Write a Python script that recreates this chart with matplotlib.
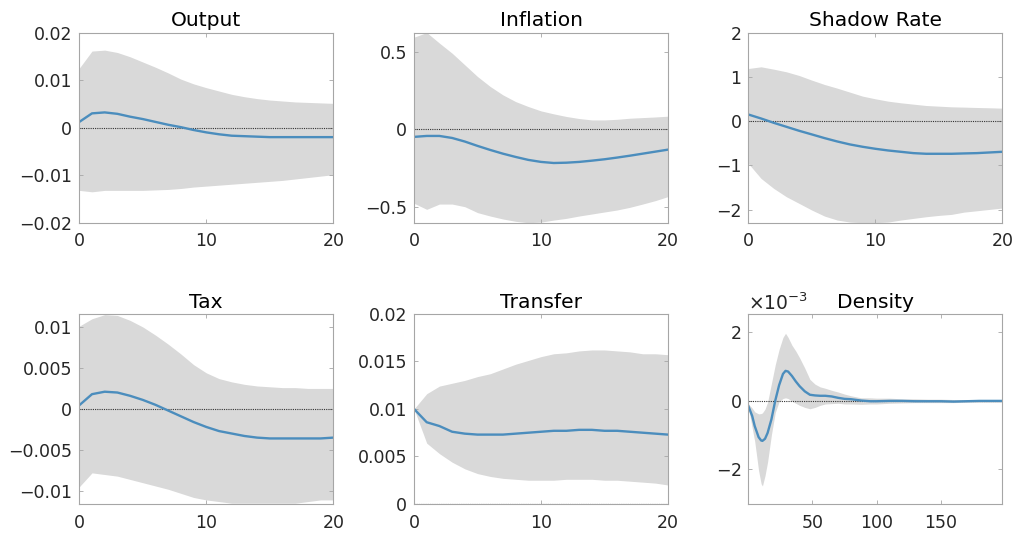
import numpy as np
import matplotlib
matplotlib.use("Agg")
from matplotlib import pyplot as plt
from matplotlib.ticker import ScalarFormatter

plt.rcParams['font.family'] = ['DejaVu Sans']
plt.rcParams['axes.unicode_minus'] = True
plt.rcParams['mathtext.fontset'] = 'dejavusans'

# horizon for the quarterly responses
horizon = list(range(21))

output_mean = [0.0012, 0.0030, 0.0032, 0.0029, 0.0023, 0.0018, 0.0012, 0.0006, 0.0001, -0.0005, -0.0010,
               -0.0014, -0.0017, -0.0018, -0.0019, -0.0020, -0.0020, -0.0020, -0.0020, -0.0020, -0.0020]
output_upper = [0.0125, 0.0161, 0.0163, 0.0158, 0.0149, 0.0138, 0.0127, 0.0115, 0.0102, 0.0092, 0.0084,
                0.0077, 0.0070, 0.0065, 0.0061, 0.0058, 0.0056, 0.0054, 0.0053, 0.0052, 0.0051]
output_lower = [-0.0132, -0.0135, -0.0132, -0.0132, -0.0132, -0.0132, -0.0131, -0.0130, -0.0128, -0.0125, -0.0123,
                -0.0121, -0.0119, -0.0117, -0.0115, -0.0113, -0.0111, -0.0108, -0.0105, -0.0102, -0.0099]

inflation_mean = [-0.049, -0.043, -0.043, -0.056, -0.079, -0.107, -0.133, -0.157, -0.178, -0.197, -0.210,
                  -0.217, -0.215, -0.210, -0.202, -0.193, -0.182, -0.170, -0.157, -0.144, -0.131]
inflation_upper = [0.592, 0.622, 0.554, 0.489, 0.414, 0.339, 0.275, 0.221, 0.178, 0.146, 0.118,
                   0.099, 0.082, 0.069, 0.060, 0.060, 0.064, 0.071, 0.075, 0.079, 0.084]
inflation_lower = [-0.476, -0.515, -0.481, -0.481, -0.498, -0.536, -0.558, -0.577, -0.592, -0.601, -0.597,
                   -0.584, -0.573, -0.558, -0.545, -0.532, -0.519, -0.502, -0.481, -0.459, -0.433]

shadow_mean = [0.150, 0.060, -0.038, -0.128, -0.218, -0.300, -0.383, -0.459, -0.526, -0.579, -0.624,
               -0.662, -0.692, -0.722, -0.737, -0.737, -0.737, -0.729, -0.722, -0.707, -0.692]
shadow_upper = [1.188, 1.226, 1.173, 1.113, 1.030, 0.925, 0.827, 0.744, 0.654, 0.564, 0.504,
                0.451, 0.414, 0.383, 0.353, 0.338, 0.323, 0.316, 0.308, 0.301, 0.293]
shadow_lower = [-0.955, -1.293, -1.519, -1.707, -1.857, -2.008, -2.143, -2.233, -2.278, -2.293, -2.293,
                -2.278, -2.233, -2.195, -2.158, -2.128, -2.105, -2.053, -2.023, -1.992, -1.962]

tax_mean = [0.00045, 0.0018, 0.0021, 0.0020, 0.0016, 0.0011, 0.0005, -0.0002, -0.0009, -0.0016, -0.0022,
            -0.0027, -0.0030, -0.0033, -0.0035, -0.0036, -0.0036, -0.0036, -0.0036, -0.0036, -0.0035]
tax_upper = [0.0101, 0.0110, 0.0115, 0.0114, 0.0108, 0.0100, 0.0090, 0.0079, 0.0067, 0.0054, 0.0044,
             0.0037, 0.0033, 0.0030, 0.0028, 0.0027, 0.0026, 0.0026, 0.0025, 0.0025, 0.0025]
tax_lower = [-0.0095, -0.0078, -0.0080, -0.0082, -0.0086, -0.0090, -0.0094, -0.0098, -0.0103, -0.0108, -0.0111,
             -0.0113, -0.0115, -0.0115, -0.0115, -0.0115, -0.0115, -0.0115, -0.0113, -0.0111, -0.0111]

transfer_mean = [0.0100, 0.0086, 0.0082, 0.0076, 0.0074, 0.0073, 0.0073, 0.0073, 0.0074, 0.0075, 0.0076,
                 0.0077, 0.0077, 0.0078, 0.0078, 0.0077, 0.0077, 0.0076, 0.0075, 0.0074, 0.0073]
transfer_upper = [0.0100, 0.0116, 0.0124, 0.0127, 0.0130, 0.0134, 0.0137, 0.0142, 0.0147, 0.0151, 0.0155,
                  0.0158, 0.0159, 0.0161, 0.0162, 0.0162, 0.0161, 0.0160, 0.0158, 0.0158, 0.0157]
transfer_lower = [0.0100, 0.0064, 0.0053, 0.0044, 0.0037, 0.0032, 0.0029, 0.0027, 0.0026, 0.0025, 0.0025,
                  0.0025, 0.0026, 0.0026, 0.0026, 0.0025, 0.0025, 0.0024, 0.0023, 0.0022, 0.0020]

# density response on a coarser grid, values in units of 1e-3
density_x = [0, 3, 5, 8, 10, 11, 13, 15, 18, 21, 24, 27, 29, 31, 34, 37, 40, 44, 48, 52, 56, 60, 65,
             70, 75, 80, 88, 95, 100, 110, 120, 130, 140, 150, 160, 170, 180, 190, 198]
density_mean = [-0.16, -0.45, -0.75, -1.07, -1.17, -1.18, -1.12, -0.95, -0.55, 0.00, 0.45, 0.78, 0.87, 0.85, 0.72,
                0.56, 0.42, 0.27, 0.17, 0.15, 0.14, 0.14, 0.12, 0.08, 0.05, 0.04, 0.00, -0.02, -0.02, -0.01,
                -0.01, -0.02, -0.02, -0.02, -0.03, -0.02, -0.01, -0.01, -0.01]
density_upper = [-0.10, -0.22, -0.33, -0.39, -0.38, -0.36, -0.25, -0.05, 0.50, 1.05, 1.50, 1.85, 1.97, 1.85, 1.62,
                 1.45, 1.25, 0.95, 0.62, 0.48, 0.40, 0.36, 0.30, 0.25, 0.19, 0.14, 0.08, 0.08, 0.07, 0.07,
                 0.05, 0.05, 0.04, 0.04, 0.03, 0.03, 0.03, 0.02, 0.02]
density_lower = [-0.19, -0.80, -1.20, -2.05, -2.44, -2.50, -2.20, -1.80, -1.00, -0.35, -0.03, 0.06, 0.08, 0.06, -0.02,
                 -0.08, -0.14, -0.20, -0.24, -0.20, -0.14, -0.10, -0.09, -0.08, -0.10, -0.10, -0.11, -0.10, -0.10, -0.08,
                 -0.07, -0.06, -0.06, -0.06, -0.06, -0.05, -0.05, -0.05, -0.05]

titles = ["Output", "Inflation", "Shadow Rate", "Tax", "Transfer", "Density"]

line_color = "#4b8dbd"
band_color = "#d9d9d9"
spine_color = "#a6a6a6"
text_color = "#262626"

fig = plt.figure(figsize=(10.18, 5.35), dpi=100)

lefts = [0.0779, 0.4067, 0.7351]
bottoms = [0.5837, 0.0579]
width = 0.2495
height = 0.3555

panels = [
    (horizon, output_mean, output_upper, output_lower, (-0.02, 0.02), [-0.02, -0.01, 0, 0.01, 0.02], ["−0.02", "−0.01", "0", "0.01", "0.02"]),
    (horizon, inflation_mean, inflation_upper, inflation_lower, (-0.601, 0.622), [-0.5, 0, 0.5], ["−0.5", "0", "0.5"]),
    (horizon, shadow_mean, shadow_upper, shadow_lower, (-2.293, 2.0), [-2, -1, 0, 1, 2], ["−2", "−1", "0", "1", "2"]),
    (horizon, tax_mean, tax_upper, tax_lower, (-0.0116, 0.0116), [-0.01, -0.005, 0, 0.005, 0.01], ["−0.01", "−0.005", "0", "0.005", "0.01"]),
    (horizon, transfer_mean, transfer_upper, transfer_lower, (0, 0.02), [0, 0.005, 0.01, 0.015, 0.02], ["0", "0.005", "0.01", "0.015", "0.02"]),
]

for i in range(6):
    row = i // 3
    col = i % 3
    ax = fig.add_axes([lefts[col], bottoms[row], width, height])

    if i < 5:
        x, mean, upper, lower, ylim, yticks, ylabels = panels[i]
        ax.fill_between(x, lower, upper, color=band_color, linewidth=0)
        ax.axhline(0, color="#333333", linestyle=(0, (1, 1)), linewidth=0.8)
        ax.plot(x, mean, color=line_color, linewidth=1.7)
        ax.set_xlim(0, 20)
        ax.set_ylim(*ylim)
        ax.set_xticks([0, 10, 20])
        ax.set_yticks(yticks)
        ax.set_yticklabels(ylabels)
    else:
        scale = 1e-3
        lo = np.array(density_lower) * scale
        up = np.array(density_upper) * scale
        mn = np.array(density_mean) * scale
        ax.fill_between(density_x, lo, up, color=band_color, linewidth=0)
        ax.axhline(0, color="#333333", linestyle=(0, (1, 1)), linewidth=0.8)
        ax.plot(density_x, mn, color=line_color, linewidth=1.7)
        ax.set_xlim(0, 198)
        ax.set_ylim(-3.03e-3, 2.54e-3)
        ax.set_xticks([50, 100, 150])
        ax.set_yticks([-2e-3, 0, 2e-3])
        fmt = ScalarFormatter(useMathText=True)
        fmt.set_powerlimits((-2, 2))
        ax.yaxis.set_major_formatter(fmt)
        ax.yaxis.get_offset_text().set_fontsize(13.5)
        ax.yaxis.get_offset_text().set_color(text_color)

    ax.set_title(titles[i], fontsize=14.6, color="black", pad=4.5)
    for s in ax.spines.values():
        s.set_color(spine_color)
        s.set_linewidth(0.8)
    ax.tick_params(direction="in", length=3, width=0.6, color=spine_color,
                   top=True, right=True, labelsize=12.5, labelcolor=text_color, pad=5)
    ax.tick_params(axis="x", pad=7)

plt.savefig("out.png")
